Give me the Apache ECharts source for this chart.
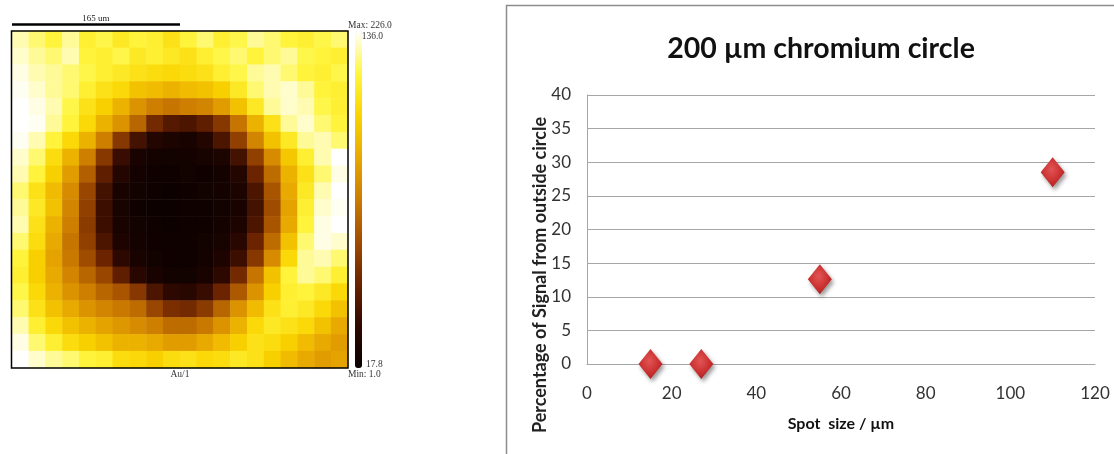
<!DOCTYPE html>
<html><head><meta charset="utf-8">
<script src="https://cdn.jsdelivr.net/npm/echarts@6/dist/echarts.min.js"></script>
<style>html,body{margin:0;padding:0;background:#fff}#c{width:1114px;height:454px}</style>
</head><body><div id="c"></div>
<script>
// ---- Scatter data ----
const spotSize = [15, 27, 55, 110];
const signalPct = [0, 0, 12.6, 28.5];
const xTicks = [0, 20, 40, 60, 80, 100, 120];
const yTicks = [0, 5, 10, 15, 20, 25, 30, 35, 40];

// ---- Au/1 map (coarse 20x20 intensity estimate, top row first) ----
const mapRows = [
 [130,125,120,128,118,122,115,120,118,112,120,125,118,122,128,125,120,118,122,125],
 [132,128,125,130,120,118,122,115,118,115,112,118,122,125,120,125,128,122,120,118],
 [134,130,128,125,122,118,115,112,110,108,110,112,118,122,128,130,125,120,118,122],
 [135,132,128,125,118,112,108,100,98,95,98,100,105,115,125,130,132,128,120,118],
 [136,134,130,122,112,105,95,85,78,75,78,80,88,100,115,128,132,130,122,118],
 [136,135,128,120,108,95,85,70,50,42,40,45,55,75,95,112,128,132,125,120],
 [135,130,120,108,95,78,55,38,28,25,24,28,40,58,80,100,115,128,130,125],
 [132,125,110,95,78,55,35,24,22,21,22,23,25,38,58,82,102,118,130,136],
 [130,120,105,88,68,45,28,22,20,20,21,20,22,28,48,72,95,112,125,134],
 [125,112,98,82,60,38,24,21,20,19,20,21,22,25,40,65,92,115,130,136],
 [128,115,100,80,58,36,23,20,19,19,20,20,21,24,38,62,90,118,132,135],
 [130,112,95,78,56,36,24,21,20,19,20,20,22,26,40,65,92,120,134,136],
 [125,110,92,75,58,40,26,22,20,20,20,21,23,30,48,72,100,125,134,132],
 [120,105,90,76,62,48,32,24,21,20,20,22,26,36,55,82,108,128,130,125],
 [118,105,92,80,70,60,45,30,24,21,21,24,32,50,75,100,120,128,125,118],
 [122,108,95,85,78,70,65,55,40,32,30,35,48,66,85,105,118,120,115,108],
 [125,112,100,92,85,80,76,72,60,52,50,56,70,85,98,112,118,115,108,100],
 [130,118,108,100,95,90,86,82,78,72,72,76,85,95,108,115,112,108,100,92],
 [134,125,118,110,105,100,95,95,92,88,88,92,98,105,112,110,105,98,92,88],
 [136,132,128,125,120,118,110,108,105,110,112,108,110,115,112,105,98,92,88,90]
];
const colorbarMin = 17.8, colorbarMax = 136.0;
const mapLabels = {max: 'Max: 226.0', top: '136.0', bottom: '17.8', min: 'Min: 1.0', name: 'Au/1', scale: '165 um'};

const heatData = [];
mapRows.forEach((row, r) => row.forEach((v, c) => heatData.push([c, r, v])));
const idx = mapRows[0].map((_, i) => i);

const serif = '"Liberation Serif", "DejaVu Serif", serif';
const sans = 'Lato, "Open Sans", sans-serif';

const chart = echarts.init(document.getElementById('c'), null, {renderer: 'canvas'});
chart.setOption({
  animation: false,
  backgroundColor: '#fff',
  title: {
    text: '200 µm chromium circle',
    left: 816, top: 29, textAlign: 'center',
    textStyle: {fontFamily: sans, fontWeight: 'bold', fontSize: 28.5, color: '#111'}
  },
  grid: [
    {left: 12, top: 31, width: 336, height: 337},
    {left: 587, top: 95, width: 508, height: 269}
  ],
  xAxis: [
    {gridIndex: 0, type: 'category', data: idx, show: false},
    {gridIndex: 1, type: 'value', min: 0, max: 120, interval: 20,
     axisLine: {show: true, lineStyle: {color: '#a6a6a6', width: 1}},
     axisTick: {show: false},
     splitLine: {show: false},
     axisLabel: {margin: 21, fontFamily: sans, fontSize: 17, color: '#333',
       formatter: v => xTicks.includes(v) ? String(v) : ''},
     name: 'Spot  size / µm', nameLocation: 'middle', nameGap: 52,
     nameTextStyle: {fontFamily: sans, fontSize: 16, fontWeight: 'bold', color: '#111'}}
  ],
  yAxis: [
    {gridIndex: 0, type: 'category', data: idx, inverse: true, show: false},
    {gridIndex: 1, type: 'value', min: 0, max: 40, interval: 5,
     axisLine: {show: true, lineStyle: {color: '#a6a6a6', width: 1}},
     axisTick: {show: false},
     splitLine: {show: true, lineStyle: {color: '#a6a6a6', width: 1}},
     axisLabel: {margin: 16, fontFamily: sans, fontSize: 17, color: '#333',
       formatter: v => yTicks.includes(v) ? String(v) : ''}}
  ],
  visualMap: {
    type: 'continuous', seriesIndex: 0, min: colorbarMin, max: colorbarMax,
    calculable: false, realtime: false, orient: 'vertical',
    left: 355, top: 31, itemWidth: 7, itemHeight: 337, text: null, padding: 0,
    inRange: {color: ['#0a0000','#2e0800','#6a2200','#a04c00','#cc7c00','#e8a800','#fad400','#fff640','#ffffff']}
  },
  series: [
    {type: 'heatmap', xAxisIndex: 0, yAxisIndex: 0, data: heatData,
     itemStyle: {borderWidth: 0}, emphasis: {disabled: true}, progressive: 0},
    {type: 'scatter', xAxisIndex: 1, yAxisIndex: 1,
     data: spotSize.map((x, i) => [x, signalPct[i]]),
     symbol: 'diamond', symbolSize: [24, 30],
     itemStyle: {
       opacity: 1,
       color: new echarts.graphic.RadialGradient(0.45, 0.4, 0.7, [
         {offset: 0, color: '#e25555'}, {offset: 0.6, color: '#c92e2e'}, {offset: 1, color: '#9c1e1e'}]),
       shadowColor: 'rgba(0,0,0,0.4)', shadowBlur: 4, shadowOffsetX: 2, shadowOffsetY: 3
     }}
  ],
  graphic: [
    {type: 'rect', z: 100, shape: {x: 11.5, y: 31, width: 336.5, height: 337},
     style: {fill: 'none', stroke: '#000', lineWidth: 1.5}},
    {type: 'line', z: 100, shape: {x1: 12, y1: 24.5, x2: 180, y2: 24.5},
     style: {stroke: '#000', lineWidth: 2.5}},
    {type: 'text', z: 100, x: 96, y: 19, style: {text: mapLabels.scale, font: '9px ' + serif, fill: '#222', align: 'center', verticalAlign: 'middle'}},
    {type: 'text', z: 100, x: 348, y: 25, style: {text: mapLabels.max, font: '9.5px ' + serif, fill: '#333', align: 'left', verticalAlign: 'middle'}},
    {type: 'text', z: 100, x: 383, y: 36, style: {text: mapLabels.top, font: '9.5px ' + serif, fill: '#333', align: 'right', verticalAlign: 'middle'}},
    {type: 'text', z: 100, x: 366, y: 364, style: {text: mapLabels.bottom, font: '9.5px ' + serif, fill: '#333', align: 'left', verticalAlign: 'middle'}},
    {type: 'text', z: 100, x: 348, y: 374, style: {text: mapLabels.min, font: '9.5px ' + serif, fill: '#333', align: 'left', verticalAlign: 'middle'}},
    {type: 'text', z: 100, x: 180, y: 374, style: {text: mapLabels.name, font: '9.5px ' + serif, fill: '#333', align: 'center', verticalAlign: 'middle'}},
    {type: 'rect', z: 100, shape: {x: 506.5, y: 5.5, width: 700, height: 600},
     style: {fill: 'none', stroke: '#8c8c8c', lineWidth: 1.5}},
    {type: 'text', z: 100, x: 540, y: 275, rotation: Math.PI / 2,
     style: {text: 'Percentage of Signal from outside circle', fontFamily: 'Lato', fontWeight: 'bold', fontSize: 18, fill: '#222', align: 'center', verticalAlign: 'middle'}}
  ]
});
</script></body></html>
